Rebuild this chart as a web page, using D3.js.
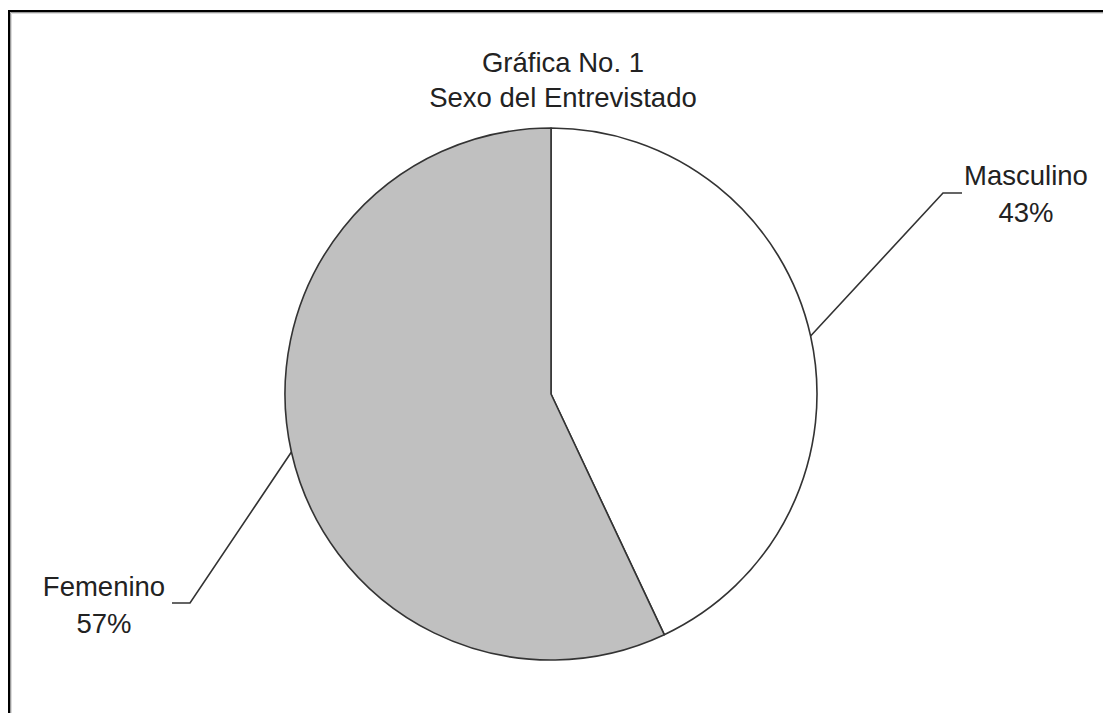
<!DOCTYPE html>
<html>
<head>
<meta charset="utf-8">
<script src="https://cdn.jsdelivr.net/npm/d3@7"></script>
<style>
  html, body { margin: 0; padding: 0; background: #fff; }
  svg { display: block; }
  text { font-family: "Liberation Sans", Arial, sans-serif; fill: #222; }
</style>
</head>
<body>
<svg id="chart" width="1103" height="713"></svg>
<script>
const categories = ["Masculino", "Femenino"];
const values = [43, 57];
const percentLabels = ["43%", "57%"];
const titleLines = ["Gráfica No. 1", "Sexo del Entrevistado"];
const sliceColors = ["#ffffff", "#c0c0c0"];

const W = 1103, H = 713;
const cx = 551, cy = 394, R = 266;
const fontSize = 27.5;

const svg = d3.select("#chart");

// frame (top & left edges visible, with soft shadow inside)
const frame = svg.append("g");
frame.append("path").attr("d", `M9,${H} V11 H${W}`).attr("fill", "none").attr("stroke", "#000").attr("stroke-width", 2);
frame.append("path").attr("d", `M10.5,${H} V12.5 H${W}`).attr("fill", "none").attr("stroke", "#9a9a9a").attr("stroke-width", 1);
frame.append("path").attr("d", `M11.5,${H} V13.5 H${W}`).attr("fill", "none").attr("stroke", "#dcdcdc").attr("stroke-width", 1);

// title
const title = svg.append("text").attr("text-anchor", "middle").style("font-size", fontSize + "px");
title.selectAll("tspan").data(titleLines).join("tspan")
  .attr("x", 563).attr("y", (d, i) => 72 + i * 34.5).text(d => d);

// pie
const pie = d3.pie().sort(null).value(d => d);
const arcs = pie(values);
const arc = d3.arc().innerRadius(0).outerRadius(R);
const g = svg.append("g").attr("transform", `translate(${cx},${cy})`);
g.selectAll("path").data(arcs).join("path")
  .attr("d", arc)
  .attr("fill", (d, i) => sliceColors[i])
  .attr("stroke", "#333")
  .attr("stroke-width", 1.6)
  .attr("stroke-linejoin", "round");

// labels with leader lines
const labelLayout = [
  { bend: [943, 193], end: [962, 193], tx: 1026, ty: 185 },
  { bend: [190, 603], end: [172, 603], tx: 104, ty: 596 }
];
arcs.forEach((a, i) => {
  const mid = (a.startAngle + a.endAngle) / 2;
  const sx = cx + R * Math.sin(mid), sy = cy - R * Math.cos(mid);
  const L = labelLayout[i];
  svg.append("path")
    .attr("d", d3.line()([[sx, sy], L.bend, L.end]))
    .attr("fill", "none").attr("stroke", "#333").attr("stroke-width", 1.6);
  const t = svg.append("text").attr("text-anchor", "middle").style("font-size", fontSize + "px");
  t.append("tspan").attr("x", L.tx).attr("y", L.ty).text(categories[i]);
  t.append("tspan").attr("x", L.tx).attr("y", L.ty + 37).text(percentLabels[i]);
});
</script>
</body>
</html>
